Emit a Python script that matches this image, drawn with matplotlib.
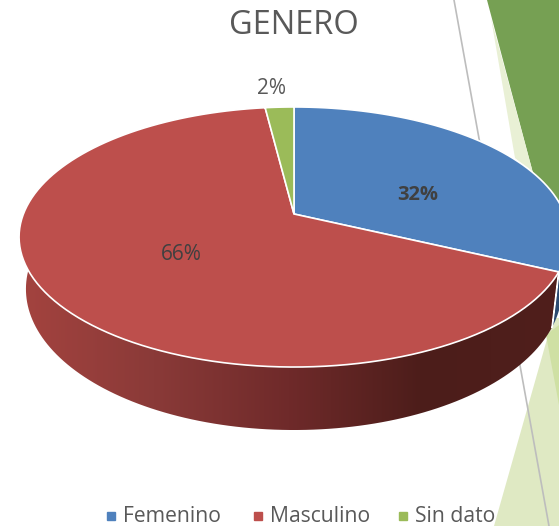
import numpy as np
import matplotlib
matplotlib.use('Agg')
import matplotlib.pyplot as plt
from matplotlib.colors import LinearSegmentedColormap
from matplotlib.patches import Polygon
from matplotlib.path import Path
from matplotlib.transforms import Transform

categories = ['Femenino', 'Masculino', 'Sin dato']
values = [32, 66, 2]
colors = ['#4f81bd', '#bd4f4c', '#9bbb59']
title = 'GENERO'

plt.rcParams['font.family'] = ['Open Sans', 'DejaVu Sans']
W, H = 559, 526
TEXT = '#595959'


# unit circle -> picture pixels, seen in perspective
class Tilt(Transform):
    input_dims = 2
    output_dims = 2

    def transform_non_affine(self, values):
        xy = np.asarray(values, dtype=float)
        d = 1 + 0.1769 * xy[:, 1]
        return np.column_stack([294 + 270.6 * xy[:, 0] / d,
                                (214 - 88.1 * xy[:, 1]) / d])

    def transform_path_non_affine(self, path):
        # flatten the arcs first, control points do not survive the warp
        pts = []
        for curve, code in path.iter_bezier():
            pts.append(curve(np.linspace(0, 1, 16)))
        return Path(self.transform_non_affine(np.vstack(pts)), closed=False)


tilt = Tilt()


def wall(t1, t2):
    t = np.radians(np.linspace(t1, t2, 120))
    top = tilt.transform_non_affine(np.column_stack([np.cos(t), np.sin(t)]))
    low = np.column_stack([294 + 0.975 * (top[:, 0] - 294),
                           top[:, 1] + 55 + (top[:, 1] - 272) * 0.084])
    return np.vstack([top, low[::-1]])


fig = plt.figure(figsize=(W / 100, H / 100), dpi=100)
ax = fig.add_axes([0, 0, 1, 1])

wedges, _ = ax.pie(values, colors=colors, startangle=90, counterclock=False,
                   wedgeprops={'edgecolor': 'white', 'linewidth': 1.2, 'zorder': 5})
for w in wedges:
    w.set_transform(tilt + ax.transData)

# slide background behind the chart
ax.add_patch(Polygon([(487, 0), (559, 0), (559, 201), (533, 173)], color='#76a053', zorder=1, lw=0))
ax.add_patch(Polygon([(491, 18), (533, 173), (515, 158)], color='#e9f0d5', zorder=1, lw=0))
ax.add_patch(Polygon([(553, 318), (494, 526), (559, 526), (559, 318)], color='#dfe9c3', zorder=1, lw=0))
ax.add_patch(Polygon([(546, 335), (559, 405), (559, 325)], color='#cfe0a4', zorder=1, lw=0))
ax.plot([454, 549], [0, 526], color='#bdbdbd', lw=1.2, zorder=2)

# side of the disc
blue, red = wedges[0], wedges[1]
ax.add_patch(Polygon(wall(-8, blue.theta1), color='#2b4a70', zorder=3, lw=0))
red_wall = Polygon(wall(red.theta2, -191), facecolor='none', edgecolor='none', zorder=3)
ax.add_patch(red_wall)
shade = LinearSegmentedColormap.from_list('shade', ['#a4433f', '#8a3a38', '#6f2a2a', '#4c1d1a', '#501f1c'])
im = ax.imshow(np.linspace(0, 1, 256)[None, :], cmap=shade, extent=(19, 559, 450, 230),
               aspect='auto', zorder=3)
im.set_clip_path(red_wall)
ax.add_patch(Polygon(wall(blue.theta1 - 0.3, blue.theta1 + 0.3), color='white', zorder=4, lw=0.8))

# percent labels
ax.text(418, 195, f'{values[0]}%', ha='center', va='center', fontsize=14.5, fontweight='bold', color='#404040', zorder=6)
ax.text(181, 254, f'{values[1]}%', ha='center', va='center', fontsize=15, color='#404040', zorder=6)
ax.text(272, 89, f'{values[2]}%', ha='center', va='center', fontsize=15, color=TEXT, zorder=6)
ax.text(294, 26, title, ha='center', va='center', fontsize=23.5, color=TEXT, zorder=6)

# legend row
for name, c, x in zip(categories, colors, [111, 258, 403]):
    ax.plot([x], [516], ls='', marker='s', ms=6, color=c, zorder=7)
    ax.text(x + 12, 516, name, ha='left', va='center', fontsize=15.2, color=TEXT, zorder=7)

ax.set_xlim(0, W)
ax.set_ylim(H, 0)
ax.set_aspect('auto')
ax.axis('off')
fig.savefig('out.png', dpi=100)
